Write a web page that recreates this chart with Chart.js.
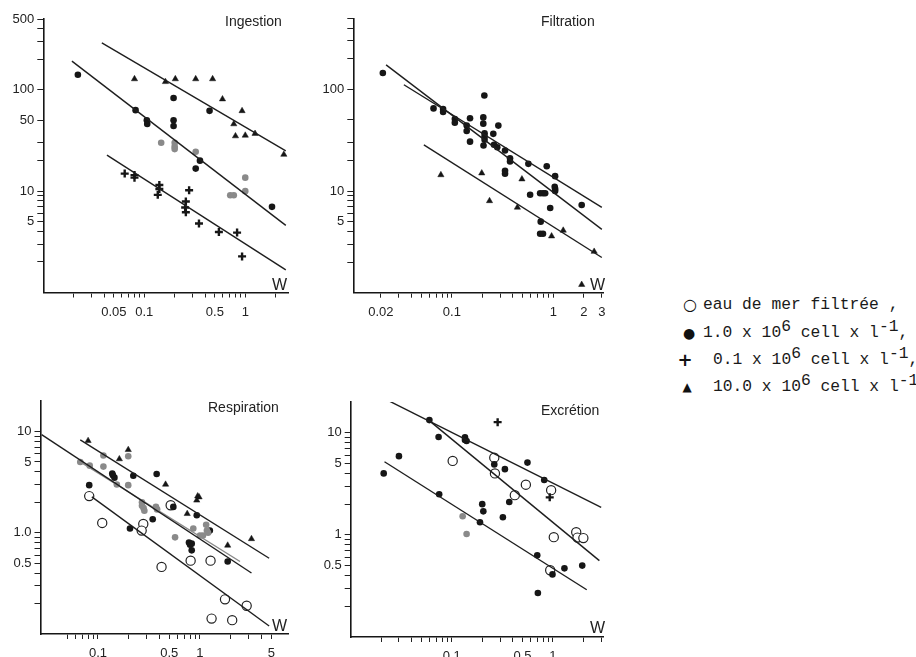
<!DOCTYPE html>
<html>
<head>
<meta charset="utf-8">
<script src="https://cdn.jsdelivr.net/npm/chart.js@4.4.0/dist/chart.umd.min.js"></script>
<style>
	body { margin: 0; background: #fff; width: 916px; height: 657px; position: relative; overflow: hidden; font-family: 'Liberation Sans', Arial, sans-serif; color: #222; }
	canvas { position: absolute; }
	.ttl { position: absolute; font-size: 14px; line-height: 16px; }
	.w { position: absolute; font-size: 16px; line-height: 18px; }
	.leg { position: absolute; height: 20px; line-height: 20px; font-family: 'Liberation Mono', monospace; font-size: 16.3px; white-space: nowrap; color: #1a1a1a; }
	.leg .up { position: relative; top: -6px; }
	.sym { position: absolute; width: 20px; height: 20px; line-height: 20px; text-align: center; font-family: 'DejaVu Sans', sans-serif; color: #111; }
</style>
</head>
<body>
<canvas id="c-ing"></canvas>
<canvas id="c-fil"></canvas>
<canvas id="c-res"></canvas>
<canvas id="c-exc"></canvas>

<div class="ttl" style="left:225px;top:13px">Ingestion</div>
<div class="ttl" style="left:541px;top:13px">Filtration</div>
<div class="ttl" style="left:208px;top:399px">Respiration</div>
<div class="ttl" style="left:541px;top:402px">Excrétion</div>

<div class="w" style="left:272px;top:276px">W</div>
<div class="w" style="left:590px;top:276px">W</div>
<div class="w" style="left:272px;top:617px">W</div>
<div class="w" style="left:590px;top:619px">W</div>

<div class="sym" style="left:680px;top:295px;font-size:16px">○</div>
<div class="leg" style="left:703px;top:295px">eau de mer filtrée ,</div>
<div class="sym" style="left:679px;top:323px;font-size:14px">●</div>
<div class="leg" style="left:703px;top:323px">1.0 x 10<span class="up">6</span> cell x l<span class="up">-1</span>,</div>
<div class="sym" style="left:675px;top:350px;font-size:18px;font-weight:bold">+</div>
<div class="leg" style="left:713px;top:350px">0.1 x 10<span class="up">6</span> cell x l<span class="up">-1</span>,</div>
<div class="sym" style="left:677px;top:377px;font-size:12px">▲</div>
<div class="leg" style="left:713px;top:377px">10.0 x 10<span class="up">6</span> cell x l<span class="up">-1</span></div>

<script>
(function () {
	'use strict';

	// --- Ingestion ---
	var ingTri = [[0.080, 128], [0.162, 120], [0.203, 128], [0.323, 128], [0.475, 128], [0.595, 81], [0.93, 62], [0.77, 46], [0.80, 35], [1.0, 35.5], [1.25, 37], [2.41, 23]];
	var ingDots = [[0.022, 141], [0.082, 63], [0.106, 50], [0.107, 46], [0.195, 83], [0.195, 50], [0.195, 44], [0.356, 20], [0.323, 16.7], [1.84, 7], [0.443, 62]];
	var ingGray = [[0.147, 30], [0.2, 30], [0.2, 27.5], [0.2, 26], [0.323, 24.5], [1.0, 13.6], [1.0, 10], [0.71, 9.1], [0.77, 9.1]];
	var ingCross = [[0.064, 14.9], [0.080, 14.4], [0.080, 13.6], [0.141, 11.5], [0.141, 10.5], [0.136, 9.2], [0.278, 10.2], [0.258, 7.9], [0.254, 6.9], [0.258, 6.2], [0.348, 4.8], [0.548, 3.95], [0.83, 3.9], [0.93, 2.27]];
	var ingLines = [[[0.038, 290], [2.52, 25]], [[0.0192, 192], [2.52, 4.6]], [[0.0427, 22.7], [2.52, 1.67]]];
	var ingXTicks = [0.02, 0.03, 0.04, 0.05, 0.06, 0.07, 0.08, 0.09, 0.1, 0.2, 0.3, 0.4, 0.5, 0.6, 0.7, 0.8, 0.9, 1, 2];
	var ingXLabels = ['0.05', '0.1', '0.5', '1'];
	var ingYTicks = [2, 3, 4, 5, 6, 7, 8, 9, 10, 20, 30, 50, 100, 200, 300, 400, 500];
	var ingYLabels = ['500', '100', '50', '10', '5'];

	// --- Filtration ---
	var filDots = [[0.0209, 145], [0.066, 65], [0.082, 64], [0.082, 60], [0.107, 51], [0.107, 47], [0.151, 52], [0.14, 44], [0.14, 39], [0.151, 30.6],
		[0.209, 87], [0.204, 53], [0.204, 46], [0.21, 37], [0.21, 34.5], [0.21, 32], [0.205, 28], [0.287, 44], [0.256, 36.5], [0.26, 28.5], [0.28, 27],
		[0.334, 25], [0.374, 21], [0.374, 19.5], [0.334, 15.8], [0.334, 14.8], [0.567, 18.5], [0.86, 17.5], [1.04, 14], [1.03, 11], [1.04, 10.5], [1.04, 10],
		[0.74, 9.5], [0.79, 9.5], [0.83, 9.5], [0.59, 9.2], [0.93, 6.8], [1.9, 7.3], [0.75, 5.0], [0.74, 3.8], [0.79, 3.8]];
	var filTri = [[0.078, 14.4], [0.197, 15], [0.235, 8.0], [0.442, 6.9], [0.49, 13.1], [0.96, 3.6], [1.25, 4.1], [2.52, 2.54], [1.9, 1.2]];
	var filLines = [[[0.0225, 174], [3.0, 4.2]], [[0.0337, 111], [3.0, 6.9]], [[0.053, 28.4], [3.0, 2.22]]];
	var filXTicks = [0.02, 0.03, 0.04, 0.05, 0.06, 0.07, 0.08, 0.09, 0.1, 0.2, 0.3, 0.4, 0.5, 0.6, 0.7, 0.8, 0.9, 1, 2, 3];
	var filXLabels = ['0.02', '0.1', '1', '2', '3'];
	var filYTicks = [2, 3, 4, 5, 6, 7, 8, 9, 10, 20, 30, 50, 100, 200, 300, 400, 500];
	var filYLabels = ['100', '10', '5'];

	// --- Respiration ---
	var resTri = [[0.080, 8.1], [0.198, 6.6], [0.162, 5.35], [0.46, 3.0], [0.95, 2.3], [0.98, 2.25], [0.93, 2.09], [0.75, 1.54], [1.87, 0.75], [3.2, 0.87]];
	var resDots = [[0.376, 3.8], [0.082, 2.95], [0.14, 3.7], [0.145, 3.5], [0.138, 3.85], [0.222, 3.65], [0.548, 1.8], [0.344, 1.36], [0.206, 1.1],
		[0.78, 0.8], [0.8, 0.76], [0.83, 0.78], [0.83, 0.67], [0.93, 1.49], [1.25, 1.05], [1.87, 0.52]];
	var resGray = [[0.067, 5.0], [0.083, 4.6], [0.113, 4.5], [0.113, 5.8], [0.198, 5.7], [0.153, 3.0], [0.198, 2.95], [0.27, 2.0], [0.28, 1.75], [0.285, 1.65],
		[0.27, 1.85], [0.37, 1.8], [0.38, 1.7], [0.57, 0.9], [1.0, 0.94], [1.07, 0.94], [1.15, 1.2], [1.17, 1.05], [1.2, 1.0], [0.86, 1.1]];
	var resOpen = [[0.082, 2.3], [0.11, 1.25], [0.278, 1.22], [0.268, 1.05], [0.516, 1.87], [0.42, 0.46], [0.81, 0.53], [1.27, 0.53], [1.76, 0.22], [2.87, 0.19], [1.3, 0.142], [2.07, 0.137]];
	var resLines = [[[0.067, 8.25], [4.77, 0.56]], [[0.028, 9.3], [3.2, 0.40]], [[0.067, 5.0], [2.47, 0.52]], [[0.087, 2.26], [4.77, 0.12]]];
	var resXTicks = [0.05, 0.06, 0.07, 0.08, 0.09, 0.1, 0.2, 0.3, 0.4, 0.5, 0.6, 0.7, 0.8, 0.9, 1, 2, 3, 4, 5];
	var resXLabels = ['0.1', '0.5', '1', '5'];
	var resYTicks = [0.2, 0.3, 0.4, 0.5, 0.6, 0.7, 0.8, 0.9, 1, 2, 3, 4, 5, 6, 7, 8, 9, 10];
	var resYLabels = ['10', '5', '1.0', '0.5'];

	// --- Excretion ---
	var excDots = [[0.0212, 4.0], [0.030, 5.9], [0.074, 9.1], [0.075, 2.5], [0.135, 9.0], [0.135, 8.5], [0.14, 8.3], [0.2, 2.0], [0.205, 1.7], [0.19, 1.33],
		[0.263, 4.9], [0.335, 4.4], [0.37, 2.1], [0.32, 1.49], [0.56, 5.1], [0.82, 3.45], [0.70, 0.63], [0.71, 0.27], [0.99, 0.41], [1.30, 0.47], [1.95, 0.50], [0.06, 13.3]];
	var excCross = [[0.284, 12.7], [0.93, 2.33]];
	var excGray = [[0.128, 1.52], [0.14, 1.02]];
	var excOpen = [[0.102, 5.3], [0.263, 5.7], [0.267, 4.0], [0.42, 2.45], [0.54, 3.1], [0.96, 2.74], [1.02, 0.95], [1.7, 1.06], [1.75, 0.94], [2.0, 0.93], [0.94, 0.45]];
	var excLines = [[[0.0219, 21.4], [3.0, 1.86]], [[0.059, 13.3], [2.88, 0.56]], [[0.0216, 5.2], [2.16, 0.29]]];
	var excXTicks = [0.02, 0.03, 0.04, 0.05, 0.06, 0.07, 0.08, 0.09, 0.1, 0.2, 0.3, 0.4, 0.5, 0.6, 0.7, 0.8, 0.9, 1, 2, 3];
	var excXLabels = ['0.1', '0.5', '1'];
	var excYTicks = [0.2, 0.3, 0.4, 0.5, 0.6, 0.7, 0.8, 0.9, 1, 2, 3, 4, 5, 6, 7, 8, 9, 10];
	var excYLabels = ['10', '5', '1', '0.5'];

	var INK = '#161616';
	var YW = 36, XH = 30;

	function pts(arr) {
		return arr.map(function (p) { return { x: p[0], y: p[1] }; });
	}

	// marker styles for the four culture conditions
	function dots(arr, color) {
		return { data: pts(arr), pointStyle: 'circle', pointRadius: 3.3, backgroundColor: color || INK, borderWidth: 0 };
	}
	function crosses(arr) {
		return { data: pts(arr), pointStyle: 'cross', pointRadius: 4, borderColor: INK, borderWidth: 2.4 };
	}
	function tris(arr) {
		return { data: pts(arr), pointStyle: 'triangle', pointRadius: 3.6, backgroundColor: INK, borderColor: INK, borderWidth: 0.5 };
	}
	function opens(arr) {
		return { data: pts(arr), pointStyle: 'circle', pointRadius: 4.6, backgroundColor: '#fff', borderColor: '#222', borderWidth: 1.2 };
	}
	function lines(list, colors) {
		return list.map(function (seg, i) {
			return { data: pts(seg), showLine: true, pointRadius: 0, borderColor: (colors && colors[i]) || '#1e1e1e', borderWidth: 1.4 };
		});
	}

	function labelCb(labels) {
		return function (v) {
			for (var i = 0; i < labels.length; i++) {
				if (Number(labels[i]) === v) return labels[i];
			}
			return '';
		};
	}

	function axis(min, max, ticks, labels, isX) {
		return {
			type: 'logarithmic',
			position: isX ? 'bottom' : 'left',
			min: min,
			max: max,
			afterBuildTicks: function (s) { s.ticks = ticks.map(function (v) { return { value: v }; }); },
			afterFit: function (s) {
				if (isX) { s.height = XH; s.paddingLeft = 0; s.paddingRight = 0; }
				else { s.width = YW; s.paddingTop = 0; s.paddingBottom = 0; }
			},
			border: { display: true, color: INK, width: 1.6 },
			grid: { drawOnChartArea: false, drawTicks: true, tickLength: isX ? 5 : 6, color: '#222', lineWidth: 1 },
			ticks: {
				autoSkip: false, maxRotation: 0, minRotation: 0,
				padding: isX ? 7 : 3,
				color: '#222',
				font: { family: "'Liberation Sans', Arial, sans-serif", size: 13 },
				callback: labelCb(labels)
			}
		};
	}

	// box = canvas [left, top, w, h] in page px, area = plot [left, top, right, bottom] in page px
	function panel(id, box, area, xr, yr, xt, xl, yt, yl, datasets) {
		var cv = document.getElementById(id);
		cv.width = box[2];
		cv.height = box[3];
		cv.style.left = box[0] + 'px';
		cv.style.top = box[1] + 'px';

		return new Chart(cv, {
			type: 'scatter',
			data: { datasets: datasets },
			options: {
				responsive: false,
				animation: false,
				devicePixelRatio: 1,
				layout: {
					padding: {
						left: area[0] - box[0] - YW,
						top: area[1] - box[1],
						right: box[0] + box[2] - area[2],
						bottom: box[1] + box[3] - area[3] - XH
					}
				},
				plugins: { legend: { display: false }, tooltip: { enabled: false } },
				scales: {
					x: axis(xr[0], xr[1], xt, xl, true),
					y: axis(yr[0], yr[1], yt, yl, false)
				}
			}
		});
	}

	panel('c-ing', [0, 0, 310, 330], [43.3, 19, 288, 292.5], [0.01, 2.65], [1, 500], ingXTicks, ingXLabels, ingYTicks, ingYLabels,
		lines(ingLines).concat([tris(ingTri), dots(ingDots), dots(ingGray, '#8a8a8a'), crosses(ingCross)]));

	panel('c-fil', [310, 0, 310, 330], [353.3, 18.3, 603, 292.7], [0.0107, 3.08], [1, 500], filXTicks, filXLabels, filYTicks, filYLabels,
		lines(filLines).concat([dots(filDots), tris(filTri)]));

	panel('c-res', [0, 390, 310, 290], [40.5, 401, 288, 634], [0.0273, 7.3], [0.1, 20], resXTicks, resXLabels, resYTicks, resYLabels,
		lines(resLines, ['#1e1e1e', '#1e1e1e', '#8a8a8a', '#1e1e1e']).concat([tris(resTri), dots(resGray, '#8a8a8a'), dots(resDots), opens(resOpen)]));

	panel('c-exc', [310, 390, 310, 290], [350.7, 402, 603.3, 637], [0.01, 3.15], [0.1, 20], excXTicks, excXLabels, excYTicks, excYLabels,
		lines(excLines).concat([dots(excDots), dots(excGray, '#8a8a8a'), crosses(excCross), opens(excOpen)]));
})();
</script>
</body>
</html>
